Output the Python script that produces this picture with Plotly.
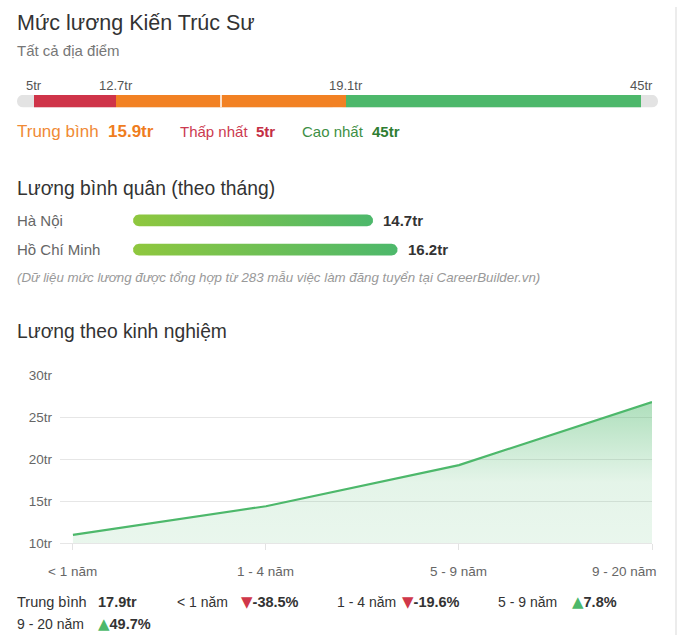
import numpy as np
import plotly.graph_objects as go

W, H = 680, 643

# ---------------- data ----------------
title = "Mức lương Kiến Trúc Sư"
subtitle = "Tất cả địa điểm"
gauge_values = [5, 12.7, 19.1, 45]
salary_avg = 15.9
salary_min = 5
salary_max = 45

cities = ["Hà Nội", "Hồ Chí Minh"]
city_avg = [14.7, 16.2]
sample_count = 283

exp_levels = ["< 1 năm", "1 - 4 năm", "5 - 9 năm", "9 - 20 năm"]
exp_salary = [11.0, 14.4, 19.3, 26.8]
exp_overall_avg = 17.9
exp_change_pct = [-38.5, -19.6, 7.8, 49.7]
y_ticks = [10, 15, 20, 25, 30]
y_tick_text = ["10tr", "15tr", "20tr", "25tr", "30tr"]

# ---------------- style ----------------
FONT = "Arial, 'Liberation Sans', sans-serif"
RED = "#cf3449"
ORANGE = "#f28123"
GREEN = "#4db86b"
TRACK = "#e3e3e3"
DARK = "#333333"
GREY = "#666666"

# gauge display anchors (track pixel offsets for min, low, avg, high, max)
GAUGE_ANCHOR_VAL = [gauge_values[0], gauge_values[1], salary_avg, gauge_values[2], gauge_values[3]]
GAUGE_ANCHOR_PX = [17, 99, 204, 329, 624]
TRACK_LEN = 641


def gpos(v):
    return float(np.interp(v, GAUGE_ANCHOR_VAL, GAUGE_ANCHOR_PX))


def px(x):
    return x / W


def py(y):
    return 1 - y / H


fig = go.Figure()

# ---------------- gauge (x2/y2) ----------------
half = TRACK_LEN / 2
for sgn in (1, -1):
    fig.add_trace(go.Bar(x=[sgn * half], base=[half], y=[0], orientation="h", width=1,
                         marker=dict(color=TRACK, cornerradius=6, line=dict(width=0)),
                         xaxis="x2", yaxis="y2", hoverinfo="skip"))
seg_colors = [RED, ORANGE, GREEN]
for i in range(3):
    a, b = gpos(gauge_values[i]), gpos(gauge_values[i + 1])
    fig.add_trace(go.Bar(x=[b - a], base=[a], y=[0], orientation="h", width=1,
                         marker=dict(color=seg_colors[i], line=dict(width=0)),
                         xaxis="x2", yaxis="y2", hoverinfo="skip"))
avg_p = gpos(salary_avg)
fig.add_shape(type="line", xref="x2", yref="y2", x0=avg_p, x1=avg_p, y0=-0.5, y1=0.5,
              line=dict(color="white", width=1.5))

# ---------------- city bars (x3/y3) ----------------
X3_RANGE = 30
X3_L, X3_R = 133, 623
Y3_T, Y3_B = 200, 268
ROW_PX = 30
Y_FIRST = 218.5
kx = (X3_R - X3_L) / X3_RANGE
rx = 6 / kx
ry = 6 / ROW_PX
y3_range = [(Y3_B - Y_FIRST) / ROW_PX, -(Y_FIRST - Y3_T) / ROW_PX]
for i, v in enumerate(city_avg):
    t1 = np.linspace(-np.pi / 2, np.pi / 2, 25)
    t2 = np.linspace(np.pi / 2, 3 * np.pi / 2, 25)
    xs = np.concatenate([v - rx + rx * np.cos(t1), rx + rx * np.cos(t2), [v - rx]])
    ys = np.concatenate([i + ry * np.sin(t1), i + ry * np.sin(t2), [i - ry]])
    fig.add_trace(go.Scatter(x=xs, y=ys, mode="lines", line=dict(width=0), fill="toself",
                             fillgradient=dict(type="horizontal",
                                               colorscale=[[0, "#8fc73e"], [1, GREEN]]),
                             xaxis="x3", yaxis="y3", hoverinfo="skip"))

# ---------------- experience chart (x/y) ----------------
fig.add_trace(go.Scatter(x=exp_levels, y=exp_salary, mode="lines",
                         line=dict(color=GREEN, width=2.2),
                         fill="tozeroy",
                         fillgradient=dict(type="vertical", start=y_ticks[0], stop=max(exp_salary),
                                           colorscale=[[0, "rgba(77,184,107,0.12)"],
                                                       [0.45, "rgba(77,184,107,0.15)"],
                                                       [1, "rgba(77,184,107,0.45)"]]),
                         hoverinfo="skip"))

ann = []


def text(x, y, s, size=14, color=DARK, xanchor="left", **kw):
    d = dict(x=x, y=y, xref="paper", yref="paper", text=s, showarrow=False, borderpad=0,
             xanchor=xanchor, yanchor="middle", font=dict(family=FONT, size=size, color=color))
    d.update(kw)
    ann.append(d)


# titles
text(px(16), py(16), title, size=21.5, color=DARK)
text(px(16), py(45), subtitle, size=15, color="#777777")

# gauge labels
for v in gauge_values:
    ann.append(dict(x=gpos(v), xref="x2", y=py(80), yref="paper", text=f"{v:g}tr",
                    showarrow=False, xanchor="center", yanchor="middle", borderpad=0,
                    font=dict(family=FONT, size=13, color="#555555")))

# summary row
text(px(16), py(127), "Trung bình", size=17, color="#f08a35")
text(px(107), py(127), f"<b>{salary_avg:g}tr</b>", size=17, color="#ef7d1e")
text(px(179), py(127), "Thấp nhất", size=15, color="#cc3a50")
text(px(255), py(127), f"<b>{salary_min:g}tr</b>", size=15, color="#c42f45")
text(px(301), py(127), "Cao nhất", size=15, color="#3d8f45")
text(px(371), py(127), f"<b>{salary_max:g}tr</b>", size=15, color="#2e7d32")

# city section
text(px(16), py(186), "Lương bình quân (theo tháng)", size=19.3, color=DARK)
for i, (c, v) in enumerate(zip(cities, city_avg)):
    text(px(16), py(Y_FIRST + i * ROW_PX), c, size=15, color=GREY)
    ann.append(dict(x=v, xref="x3", y=i, yref="y3", text=f"<b>{v:g}tr</b>", showarrow=False,
                    xanchor="left", yanchor="middle", xshift=9, borderpad=0,
                    font=dict(family=FONT, size=15, color=DARK)))
text(px(16), py(277),
     f"<i>(Dữ liệu mức lương được tổng hợp từ {sample_count} mẫu việc làm đăng tuyển tại CareerBuilder.vn)</i>",
     size=13.3, color="#999999")

# experience section
text(px(16), py(332), "Lương theo kinh nghiệm", size=19.3, color=DARK)
for i, lv in enumerate(exp_levels):
    last = i == len(exp_levels) - 1
    ann.append(dict(x=i, xref="x", y=py(578), yref="paper", text=lv, showarrow=False,
                    xanchor="right" if last else "center", yanchor="middle", borderpad=0,
                    xshift=6 if last else 0,
                    font=dict(family=FONT, size=13.5, color=GREY)))

# bottom stats
text(px(16), py(609), "Trung bình", size=14.5, color=DARK)
text(px(97), py(609), f"<b>{exp_overall_avg:g}tr</b>", size=14.5, color=DARK)
label_pos = [(176, 609), (336, 609), (497, 609), (16, 632)]
value_pos = [(240, 609), (401, 609), (571, 609), (97, 632)]
for lv, p, (lx, ly), (vx, vy) in zip(exp_levels, exp_change_pct, label_pos, value_pos):
    text(px(lx), py(ly), lv, size=14, color=DARK)
    tri = "▼" if p < 0 else "▲"
    tc = "#d0374a" if p < 0 else "#4db86b"
    text(px(vx), py(vy),
         f"<span style='color:{tc};font-family:DejaVu Sans;font-size:15px'>{tri}</span><b>{p:.1f}%</b>",
         size=14.5, color=DARK)

# right border
fig.add_shape(type="line", xref="paper", yref="paper", x0=px(676), x1=px(676), y0=0, y1=1,
              line=dict(color="#ececec", width=2))

fig.update_layout(
    width=W, height=H, margin=dict(l=0, r=0, t=0, b=0),
    paper_bgcolor="white", plot_bgcolor="rgba(0,0,0,0)",
    showlegend=False, hovermode=False, barmode="overlay",
    font=dict(family=FONT),
    annotations=ann,
    xaxis=dict(domain=[px(60), px(652)], type="category", range=[-0.067, 3],
               showgrid=False, showticklabels=False, ticks="outside", ticklen=6,
               tickcolor="#e3e3e3", showline=True, linecolor="#e6e6e6", linewidth=1,
               zeroline=False, fixedrange=True),
    yaxis=dict(domain=[py(549), py(377)], range=[10, 30], tickvals=y_ticks, ticktext=y_tick_text,
               showgrid=True, gridcolor="#e6e6e6", gridwidth=1, zeroline=False,
               ticks="", ticklabelstandoff=7,
               tickfont=dict(family=FONT, size=13.5, color=GREY), fixedrange=True),
    xaxis2=dict(domain=[px(17), px(17 + TRACK_LEN)], range=[0, TRACK_LEN], visible=False,
                anchor="y2", fixedrange=True),
    yaxis2=dict(domain=[py(103), py(90)], range=[-0.5, 0.5], visible=False, anchor="x2",
                fixedrange=True),
    xaxis3=dict(domain=[px(X3_L), px(X3_R)], range=[0, X3_RANGE], visible=False, anchor="y3",
                fixedrange=True),
    yaxis3=dict(domain=[py(Y3_B), py(Y3_T)], range=y3_range, visible=False, anchor="x3",
                fixedrange=True),
)

fig.write_html("out.html")
